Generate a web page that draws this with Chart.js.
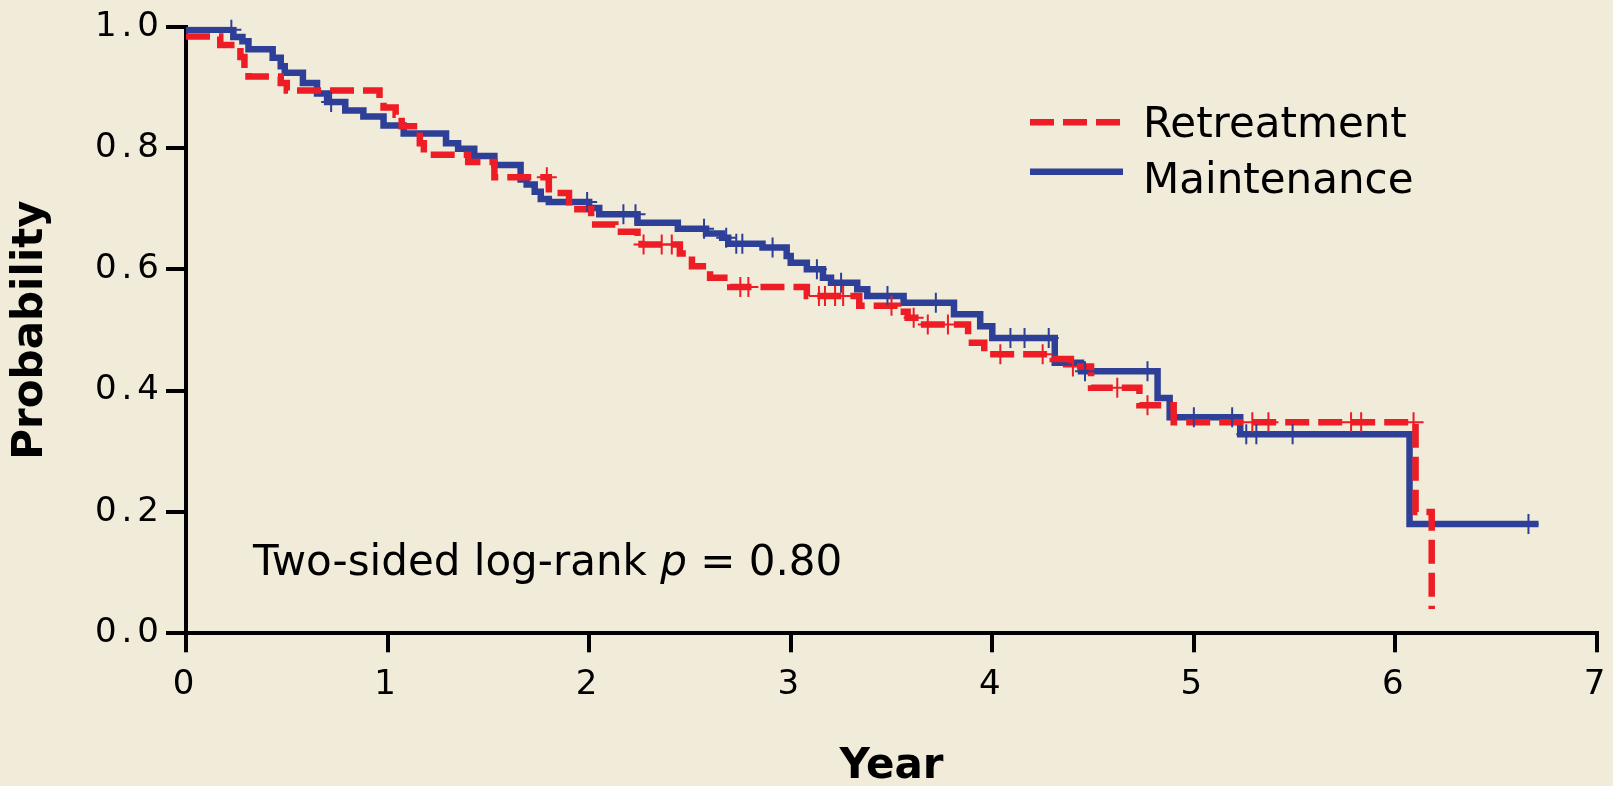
<!DOCTYPE html>
<html lang="en">
<head>
<meta charset="UTF-8">
<title>Retreatment vs Maintenance</title>
<script src="https://cdn.jsdelivr.net/npm/chart.js@4/dist/chart.umd.min.js"></script>
<style>
  html, body { margin: 0; padding: 0; background: #F1EBDA; }
  canvas { display: block; }
</style>
</head>
<body>
<canvas id="kmChart" width="1613" height="786"></canvas>
<script>
// step points: survival drops to surv[i] at time[i] (years)
const retreatTime = [0, 0.17, 0.27, 0.29, 0.31, 0.47, 0.50, 0.96, 0.98, 1.04, 1.07, 1.16, 1.18, 1.40, 1.53, 1.80, 1.90, 2.01, 2.13, 2.24,
                     2.26, 2.45, 2.51, 2.60, 2.70, 3.08, 3.34, 3.53, 3.58, 3.64, 3.88, 3.96, 4.30, 4.39, 4.49, 4.73, 4.90, 6.10, 6.18];
const retreatSurv = [0.984, 0.970, 0.950, 0.930, 0.918, 0.907, 0.895, 0.880, 0.867, 0.855, 0.836, 0.808, 0.789, 0.777, 0.752, 0.726, 0.699, 0.674, 0.662, 0.652,
                     0.641, 0.626, 0.605, 0.586, 0.571, 0.556, 0.540, 0.530, 0.520, 0.509, 0.479, 0.460, 0.452, 0.440, 0.405, 0.376, 0.348, 0.200, 0.040];
const retreatCensor = [1.79, 2.27, 2.36, 2.41, 2.75, 2.79, 3.14, 3.17, 3.22, 3.26, 3.50, 3.61, 3.68, 3.78, 4.04, 4.25, 4.40, 4.62, 4.77, 5.29, 5.37, 5.78, 5.83, 6.09];

const maintTime = [0, 0.235, 0.28, 0.31, 0.43, 0.47, 0.49, 0.58, 0.65, 0.70, 0.79, 0.88, 0.98, 1.08, 1.29, 1.35, 1.43, 1.53, 1.66, 1.69,
                   1.73, 1.76, 1.80, 2.00, 2.05, 2.24, 2.44, 2.58, 2.66, 2.69, 2.86, 2.98, 3.00, 3.08, 3.16, 3.20, 3.33, 3.38, 3.56, 3.81,
                   3.94, 4.00, 4.31, 4.44, 4.82, 4.88, 5.23, 6.07];
const maintSurv = [0.995, 0.983, 0.976, 0.963, 0.949, 0.935, 0.924, 0.907, 0.890, 0.876, 0.862, 0.852, 0.837, 0.824, 0.808, 0.799, 0.787, 0.772, 0.748, 0.740,
                   0.728, 0.716, 0.711, 0.701, 0.691, 0.677, 0.667, 0.659, 0.652, 0.642, 0.636, 0.622, 0.611, 0.600, 0.586, 0.578, 0.567, 0.556, 0.545, 0.526,
                   0.506, 0.487, 0.446, 0.432, 0.388, 0.356, 0.328, 0.180];
const maintEnd = 6.71;
const maintCensor = [0.225, 0.72, 1.99, 2.17, 2.23, 2.57, 2.68, 2.73, 2.76, 2.91, 3.13, 3.25, 3.48, 3.72, 4.09, 4.16, 4.28, 4.46, 4.77, 5.00, 5.19, 5.26, 5.31, 5.49, 6.66];

const xTicks = [0, 1, 2, 3, 4, 5, 6, 7];
const yTicks = [0, 0.2, 0.4, 0.6, 0.8, 1.0];
const seriesNames = ['Retreatment', 'Maintenance'];
const pText = ['Two-sided log-rank ', 'p', ' = 0.80'];

const RED = '#EE1D25';
const BLUE = '#2E3F97';
const FONT = '"DejaVu Sans", Verdana, sans-serif';

function survAt(times, surv, t) {
    let v = surv[0];
    for (let i = 0; i < times.length; i++) {
        if (times[i] <= t) v = surv[i];
    }
    return v;
}

const retreatPts = retreatTime.map((t, i) => ({x: t, y: retreatSurv[i]}));
const maintPts = maintTime.map((t, i) => ({x: t, y: maintSurv[i]}));
maintPts.push({x: maintEnd, y: maintSurv[maintSurv.length - 1]});

const retreatMarks = retreatCensor.map(t => ({x: t, y: survAt(retreatTime, retreatSurv, t)}));
const maintMarks = maintCensor.map(t => ({x: t, y: survAt(maintTime, maintSurv, t)}));

// background colour
const bgPlugin = {
    id: 'bg',
    beforeDraw(chart) {
        const ctx = chart.ctx;
        ctx.save();
        ctx.fillStyle = '#F1EBDA';
        ctx.fillRect(0, 0, chart.width, chart.height);
        ctx.restore();
    },
    // tick labels are drawn after the datasets (ticks.z = 1): give them wider spacing
    afterDatasetsDraw(chart) {
        chart.ctx.letterSpacing = '5px';
    }
};

// legend at the upper right, plus the log-rank note
const notePlugin = {
    id: 'notes',
    afterDraw(chart) {
        const ctx = chart.ctx;
        ctx.letterSpacing = '0px';
        const ds = chart.data.datasets;
        ctx.save();
        const rows = [{ds: ds[0], y: 122.3, base: 137}, {ds: ds[1], y: 171.7, base: 193}];
        rows.forEach(r => {
            ctx.strokeStyle = r.ds.borderColor;
            ctx.lineWidth = r.ds.borderWidth;
            ctx.lineCap = 'butt';
            ctx.setLineDash(r.ds.borderDash || []);
            ctx.beginPath();
            ctx.moveTo(1030, r.y);
            ctx.lineTo(1123, r.y);
            ctx.stroke();
            ctx.setLineDash([]);
            ctx.fillStyle = '#000';
            ctx.font = '42px ' + FONT;
            ctx.textBaseline = 'alphabetic';
            ctx.textAlign = 'left';
            ctx.fillText(r.ds.label, 1143, r.base);
        });

        let x = 253;
        const y = 575;
        ctx.fillStyle = '#000';
        pText.forEach((s, i) => {
            ctx.font = (i === 1 ? 'italic ' : '') + '42px ' + FONT;
            ctx.fillText(s, x, y);
            x += ctx.measureText(s).width;
        });
        ctx.restore();
    }
};

function noEdgePadding(s) {
    s.paddingLeft = 0;
    s.paddingRight = 0;
    s.paddingTop = 0;
    s.paddingBottom = 0;
}

const ctx = document.getElementById('kmChart').getContext('2d');
const kmChart = new Chart(ctx, {
    type: 'line',
    data: {
        datasets: [
            {
                label: seriesNames[0],
                data: retreatPts,
                borderColor: RED,
                borderWidth: 6.5,
                borderDash: [24, 9],
                borderCapStyle: 'butt',
                stepped: 'before',
                pointRadius: 0,
                fill: false,
                order: 1
            },
            {
                label: seriesNames[1],
                data: maintPts,
                borderColor: BLUE,
                borderWidth: 6.5,
                borderCapStyle: 'butt',
                stepped: 'before',
                pointRadius: 0,
                fill: false,
                order: 2
            },
            {
                label: 'Retreatment censored',
                type: 'scatter',
                data: retreatMarks,
                pointStyle: 'cross',
                pointRadius: 10,
                pointBorderWidth: 2,
                borderColor: RED,
                backgroundColor: RED,
                clip: false,
                order: 0
            },
            {
                label: 'Maintenance censored',
                type: 'scatter',
                data: maintMarks,
                pointStyle: 'cross',
                pointRadius: 10,
                pointBorderWidth: 2,
                borderColor: BLUE,
                backgroundColor: BLUE,
                clip: false,
                order: 0
            }
        ]
    },
    options: {
        responsive: false,
        animation: false,
        devicePixelRatio: 1,
        layout: { padding: { top: 26.7, right: 16, left: 0, bottom: 0 } },
        plugins: {
            legend: { display: false },
            tooltip: { enabled: false }
        },
        scales: {
            x: {
                type: 'linear',
                min: 0,
                max: 7,
                afterBuildTicks: s => { s.ticks = xTicks.map(v => ({value: v})); },
                afterFit: s => { s.height = 786 - 633.3; noEdgePadding(s); },
                ticks: {
                    z: 1,
                    color: '#000',
                    font: { family: FONT, size: 34 },
                    padding: 12,
                    maxRotation: 0,
                    callback: v => String(v)
                },
                grid: { drawOnChartArea: false, drawTicks: true, tickLength: 19, lineWidth: 4, color: '#000' },
                border: { display: true, color: '#000', width: 4 },
                title: {
                    display: true,
                    text: 'Year',
                    color: '#000',
                    font: { family: FONT, size: 42, weight: 'bold', lineHeight: 0.9 },
                    padding: { top: 0, bottom: 0 }
                }
            },
            y: {
                min: 0,
                max: 1,
                afterBuildTicks: s => { s.ticks = yTicks.map(v => ({value: v})); },
                afterFit: s => { s.width = 186; noEdgePadding(s); },
                ticks: {
                    z: 1,
                    color: '#000',
                    font: { family: FONT, size: 34 },
                    padding: 2,
                    callback: v => Number(v).toFixed(1)
                },
                grid: { drawOnChartArea: false, drawTicks: true, tickLength: 20, lineWidth: 4, color: '#000' },
                border: { display: true, color: '#000', width: 4 },
                title: {
                    display: true,
                    text: 'Probability',
                    color: '#000',
                    font: { family: FONT, size: 42, weight: 'bold' },
                    padding: { top: 6, bottom: 0 }
                }
            }
        }
    },
    plugins: [bgPlugin, notePlugin]
});
</script>
</body>
</html>
